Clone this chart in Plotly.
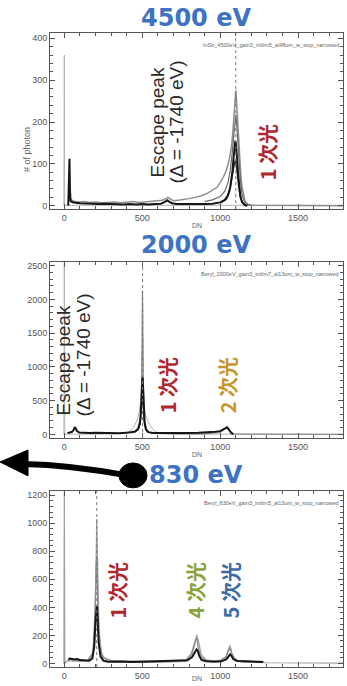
import plotly.graph_objects as go

# ---------------- data ----------------
titles = ["4500 eV", "2000 eV", "830 eV"]
file_tags = ["InSb_4500eV_gain3_intlim5_al48um_w_stop_narrowed",
             "Beryl_2000eV_gain3_intlim7_al13um_w_stop_narrowed",
             "Beryl_830eV_gain3_intlim5_al13um_w_stop_narrowed"]
peak_dn = [1100, 502, 208]
x_ticks = [0, 500, 1000, 1500]

# panel 1 : 4500 eV
t_light_dn = [-3, 0, 2, 5, 1180, 1300, 1500, 1790]
t_light_ct = [0, 360, 0, 1, 1, 1, 0, 1]
t_gray_dn = [30, 45, 60, 80, 100, 130, 160, 200, 240, 280, 320, 360, 400, 440, 480, 520, 560, 600, 630, 650,
             665, 680, 700, 730, 760, 800, 840, 880, 920, 950, 980, 1000, 1020, 1040, 1055, 1065, 1075, 1082, 1088, 1093,
             1097, 1100, 1103, 1107, 1112, 1118, 1125, 1132, 1140, 1150, 1160, 1175, 1190, 1220, 1300, 1400, 1500, 1600, 1700, 1790]
t_gray_ct = [20, 14, 11, 10, 9, 10, 8, 9, 7, 8, 9, 7, 8, 10, 8, 9, 10, 11, 13, 17,
             20, 16, 12, 13, 14, 17, 20, 24, 30, 36, 44, 55, 68, 85, 105, 125, 150, 180, 215, 250,
             270, 276, 262, 235, 195, 150, 110, 75, 45, 22, 10, 4, 2, 1, 1, 0, 1, 0, 1, 0]
t_mid_dn = [900, 950, 1000, 1030, 1050, 1065, 1078, 1088, 1095, 1100, 1105, 1112, 1120, 1130, 1140, 1155, 1170, 1200]
t_mid_ct = [10, 14, 22, 35, 55, 85, 130, 180, 210, 218, 200, 160, 105, 60, 28, 10, 4, 1]
t_dark_dn = [1000, 1040, 1060, 1075, 1085, 1092, 1097, 1101, 1106, 1112, 1120, 1130, 1145, 1165]
t_dark_ct = [6, 16, 35, 62, 88, 102, 108, 104, 92, 70, 42, 20, 6, 1]
t_black_dn = [25, 30, 33, 36, 40, 50, 70, 100, 140, 180, 220, 260, 300, 340, 380, 420, 460, 500, 540, 580,
              620, 645, 660, 672, 690, 720, 760, 800, 850, 900, 950, 1000, 1030, 1050, 1065, 1078, 1087, 1093, 1097, 1100,
              1104, 1109, 1115, 1122, 1130, 1140, 1150, 1160, 1175]
t_black_ct = [0, 60, 112, 40, 12, 9, 7, 6, 5, 5, 4, 5, 4, 4, 3, 4, 3, 4, 3, 4,
              5, 9, 13, 10, 6, 4, 4, 3, 4, 4, 5, 8, 14, 25, 45, 80, 120, 145, 155, 150,
              135, 110, 75, 45, 22, 9, 4, 1, 0]

# panel 2 : 2000 eV
m_light_dn = [-3, 0, 3, 20, 100, 200, 300, 380, 420, 445, 465, 480, 490, 496, 500, 503, 507, 513, 522, 535,
              550, 570, 600, 650, 700, 800, 1000, 1200, 1400, 1600, 1790]
m_light_ct = [0, 2700, 0, 5, 4, 5, 8, 20, 50, 110, 200, 330, 500, 800, 1300, 1450, 800, 400, 280, 200,
              140, 70, 25, 10, 6, 5, 4, 3, 3, 2, 2]
m_gray_dn = [430, 470, 485, 493, 498, 501, 503, 506, 510, 517, 530, 560, 700, 900, 1000, 1030, 1045, 1060, 1080,
             1120, 1300, 1500, 1790]
m_gray_ct = [20, 60, 150, 450, 1300, 2130, 1900, 900, 350, 120, 40, 15, 8, 10, 30, 80, 120, 60, 15,
             5, 3, 2, 2]
m_dark_dn = [470, 485, 493, 498, 502, 506, 512, 522, 540]
m_dark_ct = [60, 150, 350, 560, 610, 480, 220, 80, 30]
m_black_dn = [20, 35, 50, 60, 67, 72, 80, 95, 120, 160, 200, 250, 300, 350, 400, 430, 455, 475, 488, 495,
              499, 502, 505, 509, 515, 525, 540, 570, 620, 680, 740, 800, 860, 920, 970, 1000, 1020, 1035, 1043, 1050,
              1060, 1072, 1085]
m_black_ct = [20, 30, 40, 70, 110, 95, 55, 30, 25, 22, 24, 20, 22, 20, 24, 30, 45, 90, 220, 520,
              820, 850, 700, 400, 180, 70, 35, 22, 20, 18, 20, 22, 25, 30, 40, 50, 70, 95, 105, 90,
              50, 20, 5]

# panel 3 : 830 eV
b_light_dn = [-3, 0, 3, 20, 100, 150, 180, 195, 203, 208, 213, 222, 240, 280, 400, 600, 780, 820, 840, 850,
              860, 880, 920, 1000, 1040, 1058, 1065, 1075, 1100, 1150, 1300, 1500, 1790]
b_light_ct = [0, 1300, 0, 20, 15, 18, 50, 250, 700, 1030, 750, 250, 60, 15, 10, 8, 15, 60, 150, 205,
              160, 60, 15, 15, 50, 120, 125, 70, 20, 10, 5, 3, 2]
b_gray_dn = [30, 60, 100, 150, 185, 198, 205, 209, 214, 225, 250, 300, 400, 500, 600, 700, 780, 815, 835, 845,
             852, 860, 875, 900, 950, 1000, 1035, 1052, 1062, 1070, 1085, 1110, 1160, 1220, 1280]
b_gray_ct = [35, 28, 25, 22, 80, 400, 720, 760, 450, 120, 40, 22, 18, 15, 16, 18, 25, 70, 150, 180,
             170, 110, 50, 25, 20, 22, 45, 95, 110, 85, 40, 22, 18, 15, 12]
b_black_dn = [25, 40, 60, 80, 100, 130, 160, 180, 192, 200, 205, 209, 213, 220, 232, 250, 280, 320, 380, 440,
              500, 560, 620, 680, 740, 790, 820, 838, 848, 856, 865, 880, 910, 960, 1010, 1040, 1055, 1064, 1072, 1085,
              1110, 1150, 1200, 1250, 1275]
b_black_ct = [30, 35, 28, 32, 25, 22, 20, 35, 120, 300, 400, 410, 330, 150, 50, 20, 12, 10, 12, 10,
              12, 14, 12, 15, 16, 22, 45, 85, 100, 90, 55, 25, 15, 12, 15, 30, 55, 65, 55, 30,
              18, 15, 14, 12, 10]

# ---------------- layout helpers ----------------
W, H = 347, 686
def px(x): return x / W
def py(y): return 1 - y / H

LIGHT, GRAY, MID, DARK, BLACK = "#b4b4b4", "#8e8e8e", "#6a6a6a", "#333333", "#151515"

series = [
    [(t_light_dn, t_light_ct, LIGHT, 1), (t_gray_dn, t_gray_ct, GRAY, 1.5), (t_mid_dn, t_mid_ct, MID, 1.2),
     (t_dark_dn, t_dark_ct, DARK, 1.5), (t_black_dn, t_black_ct, BLACK, 2)],
    [(m_light_dn, m_light_ct, LIGHT, 1), (m_gray_dn, m_gray_ct, GRAY, 1.2),
     (m_dark_dn, m_dark_ct, DARK, 1.5), (m_black_dn, m_black_ct, BLACK, 2)],
    [(b_light_dn, b_light_ct, "#a0a0a0", 1.2), (b_gray_dn, b_gray_ct, GRAY, 1.4), (b_black_dn, b_black_ct, BLACK, 2)],
]

panels = [
    dict(top=32, bot=209, yr=[-8, 413], dt=100, mn=20, title_y=17, dn_y=225),
    dict(top=262, bot=439, yr=[-53, 2555], dt=500, mn=100, title_y=245, dn_y=455),
    dict(top=492, bot=669, yr=[-26, 1231], dt=200, mn=40, title_y=476, dn_y=680),
]

fig = go.Figure()
AX = "#555555"
tickfont = dict(family="Liberation Sans, Arial", size=9, color="#555")

layout = dict(width=W, height=H, margin=dict(l=0, r=0, t=0, b=0),
              paper_bgcolor="white", plot_bgcolor="white", showlegend=False)
shapes, annotations = [], []

for i, p in enumerate(panels):
    k = "" if i == 0 else str(i + 1)
    xa, ya = "x" + k, "y" + k
    for dn, ct, col, w in series[i]:
        fig.add_trace(go.Scatter(x=dn, y=ct, mode="lines", xaxis=xa, yaxis=ya,
                                 line=dict(color=col, width=w), hoverinfo="skip"))
    layout["xaxis" + k] = dict(domain=[px(50), px(343)], range=[-92, 1788], anchor=ya,
                               tickmode="array", tickvals=x_ticks, ticks="inside", ticklen=5,
                               tickcolor=AX, showline=True, linecolor=AX, linewidth=1, mirror="allticks",
                               minor=dict(ticks="inside", ticklen=3, dtick=100, tick0=0, tickcolor=AX),
                               showgrid=False, zeroline=False, tickfont=tickfont)
    layout["yaxis" + k] = dict(domain=[py(p["bot"]), py(p["top"])], range=p["yr"], anchor=xa,
                               tick0=0, dtick=p["dt"], ticks="inside", ticklen=5,
                               tickcolor=AX, showline=True, linecolor=AX, linewidth=1, mirror="allticks",
                               minor=dict(ticks="inside", ticklen=3, dtick=p["mn"], tick0=0, tickcolor=AX),
                               showgrid=False, zeroline=False, tickfont=tickfont)
    shapes.append(dict(type="line", xref=xa, yref=ya + " domain", x0=peak_dn[i], x1=peak_dn[i], y0=0, y1=1,
                       line=dict(color="#777", width=1, dash="dot")))
    annotations.append(dict(text="<b>%s</b>" % titles[i], x=px(196), y=py(p["title_y"]), xref="paper",
                            yref="paper", showarrow=False, xanchor="center", yanchor="middle",
                            font=dict(family="DejaVu Sans", size=24, color="#3e72c4")))
    annotations.append(dict(text=file_tags[i], x=px(341), y=py(p["top"] + 12), xref="paper", yref="paper",
                            showarrow=False, xanchor="right", yanchor="middle",
                            font=dict(family="Liberation Sans", size=5.5, color="#666")))
    annotations.append(dict(text="DN", x=px(197), y=py(p["dn_y"]), xref="paper", yref="paper",
                            showarrow=False, xanchor="center", yanchor="middle",
                            font=dict(family="Liberation Sans", size=7, color="#666")))

annotations.append(dict(text="# of photon", x=px(20), y=py(125), xref="paper", yref="paper", textangle=-90,
                        showarrow=False, font=dict(family="Liberation Sans", size=9, color="#666")))

esc_font = dict(family="Liberation Sans, Arial", size=19, color="#2a2a2a")
def rot(text, x, y, font):
    annotations.append(dict(text=text, x=px(x), y=py(y), xref="paper", yref="paper", textangle=-90,
                            showarrow=False, xanchor="center", yanchor="middle", font=font))

rot("Escape peak", 157, 122, esc_font)
rot("(Δ = -1740 eV)", 176, 122, esc_font)
rot("Escape peak", 63, 361, esc_font)
rot("(Δ = -1740 eV)", 83, 356, esc_font)

def jp(col):
    return dict(family="Noto Sans CJK JP", size=20, color=col)
RED, GOLD, GREEN, BLUE = "#b0282e", "#c8962a", "#8aa33a", "#3d6aa6"
rot("<b>1 次光</b>", 267, 152, jp(RED))
rot("<b>1 次光</b>", 167, 386, jp(RED))
rot("<b>2 次光</b>", 227, 386, jp(GOLD))
rot("<b>1 次光</b>", 117, 592, jp(RED))
rot("<b>4 次光</b>", 195, 592, jp(GREEN))
rot("<b>5 次光</b>", 230, 592, jp(BLUE))

# arrow decoration
shapes.append(dict(type="path", xref="paper", yref="paper",
                   path="M %f,%f Q %f,%f %f,%f" % (px(124), py(476), px(70), py(466), px(24), py(465)),
                   line=dict(color="black", width=6)))
shapes.append(dict(type="path", xref="paper", yref="paper",
                   path="M %f,%f L %f,%f L %f,%f Z" % (px(0), py(463), px(28), py(451), px(28), py(477)),
                   fillcolor="black", line=dict(color="black", width=1)))
shapes.append(dict(type="circle", xref="paper", yref="paper", x0=px(119), x1=px(147), y0=py(489), y1=py(464),
                   fillcolor="black", line=dict(color="black", width=1)))

layout["shapes"] = shapes
layout["annotations"] = annotations
fig.update_layout(**layout)

fig.write_html("out.html", config={"displayModeBar": False},
               post_script="document.body.style.margin='0';")
